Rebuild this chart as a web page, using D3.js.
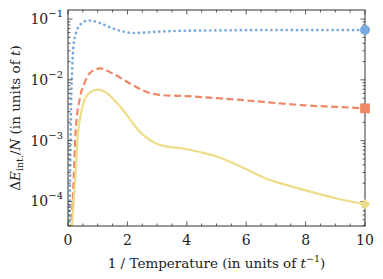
<!DOCTYPE html>
<html>
<head>
<meta charset="utf-8">
<script src="https://cdn.jsdelivr.net/npm/d3@7"></script>
<style>
  body { margin: 0; background: #fff; }
  svg text { font-family: "DejaVu Serif", "Liberation Serif", serif; fill: #222; }
</style>
</head>
<body>
<div id="vizHolder"></div>
<script>
// --- data (x = 1/T, y = dE/N) ---
var blueX   = [0.04, 0.07, 0.10, 0.14, 0.18, 0.29, 0.46, 0.68, 1.02, 1.36, 1.81, 2.26, 2.8, 3.77, 5, 7, 10];
var blueY   = [1e-5, 2e-4, 0.003, 0.015, 0.034, 0.063, 0.085, 0.095, 0.088, 0.075, 0.063, 0.059, 0.061, 0.064, 0.065, 0.066, 0.066];

var orangeX = [0.04, 0.19, 0.26, 0.4, 0.57, 0.74, 1.08, 1.47, 2.14, 2.5, 2.8, 3.2, 4, 5, 6, 7.14, 8, 9, 10];
var orangeY = [1e-5, 2.2e-4, 0.0015, 0.005, 0.0093, 0.013, 0.0155, 0.013, 0.0084, 0.0068, 0.006, 0.0056, 0.0054, 0.005, 0.0046, 0.0041, 0.0038, 0.0036, 0.0034];

var yellowX = [0.06, 0.24, 0.33, 0.45, 0.6, 0.8, 1.0, 1.3, 1.64, 1.85, 2.1, 2.42, 2.76, 3.0, 3.4, 3.8, 4.1, 4.5, 5.0, 5.9, 6.8, 7.14, 8.15, 9.05, 10];
var yellowY = [1e-5, 2.2e-4, 0.0012, 0.003, 0.0052, 0.0065, 0.0069, 0.0061, 0.0042, 0.0032, 0.0022, 0.0014, 0.00102, 0.00088, 0.00079, 0.00075, 0.00071, 0.00064, 0.00055, 0.00036, 0.000225, 0.0002, 0.000145, 0.000112, 0.00009];

var xTicks = [0, 2, 4, 6, 8, 10];
var yTicks = [-4, -3, -2, -1]; // exponents

var width = 383, height = 279,
    margin = {left: 68, right: 18, top: 10, bottom: 53};

var x = d3.scaleLinear().domain([0, 10]).range([margin.left, width - margin.right]);
var y = d3.scaleLog().domain([3.95e-5, 0.141]).range([height - margin.bottom, margin.top]);

var svg = d3.select('#vizHolder').append('svg')
    .attr('width', width).attr('height', height);

svg.append('clipPath').attr('id', 'clip')
  .append('rect')
    .attr('x', x(0)).attr('y', y.range()[1])
    .attr('width', x(10) - x(0)).attr('height', y.range()[0] - y.range()[1]);

var line = d3.line()
    .x(function(d){ return x(d[0]); })
    .y(function(d){ return y(d[1]); })
    .curve(d3.curveMonotoneX);

var series = [
  {xs: blueX,   ys: blueY,   color: '#77AADD', dash: '0.1 5',   cap: 'round', w: 2.7},
  {xs: orangeX, ys: orangeY, color: '#EE8866', dash: '7 3.5',   cap: 'butt',  w: 2.2},
  {xs: yellowX, ys: yellowY, color: '#EEDD88', dash: null,      cap: 'butt',  w: 2.2}
];

var plot = svg.append('g').attr('clip-path', 'url(#clip)');

series.forEach(function(s){
  var pts = s.xs.map(function(v, i){ return [v, s.ys[i]]; });
  plot.append('path')
    .datum(pts)
    .attr('fill', 'none')
    .attr('stroke', s.color)
    .attr('stroke-width', s.w)
    .attr('stroke-linecap', s.cap)
    .attr('stroke-dasharray', s.dash)
    .attr('d', line);
});

// --- frame and ticks ---
var frame = svg.append('g');
var x0 = x(0), x1 = x(10), yb = y.range()[0], yt = y.range()[1];

frame.append('rect')
  .attr('x', x0).attr('y', yt)
  .attr('width', x1 - x0).attr('height', yb - yt)
  .attr('fill', 'none').attr('stroke', '#333').attr('stroke-width', 1);

d3.range(0, 10.01, 0.5).forEach(function(v){
  var major = Math.abs(v % 2) < 1e-6, len = major ? 4.5 : 2.5;
  frame.append('line').attr('x1', x(v)).attr('x2', x(v)).attr('y1', yb).attr('y2', yb - len)
    .attr('stroke', '#333').attr('stroke-width', 0.8);
  frame.append('line').attr('x1', x(v)).attr('x2', x(v)).attr('y1', yt).attr('y2', yt + len)
    .attr('stroke', '#333').attr('stroke-width', 0.8);
});

for (var e = -5; e <= -1; e++) {
  for (var m = 1; m <= 9; m++) {
    var v = m * Math.pow(10, e);
    if (v < y.domain()[0] || v > y.domain()[1]) continue;
    var len = m === 1 ? 4.5 : 2.5;
    frame.append('line').attr('x1', x0).attr('x2', x0 + len).attr('y1', y(v)).attr('y2', y(v))
      .attr('stroke', '#333').attr('stroke-width', 0.8);
    frame.append('line').attr('x1', x1).attr('x2', x1 - len).attr('y1', y(v)).attr('y2', y(v))
      .attr('stroke', '#333').attr('stroke-width', 0.8);
  }
}

// tick labels
svg.selectAll('text.xt').data(xTicks).enter().append('text')
  .attr('class', 'xt')
  .attr('x', function(d){ return x(d); })
  .attr('y', yb + 19)
  .attr('text-anchor', 'middle')
  .attr('font-size', 14)
  .text(function(d){ return d; });

var yt_ = svg.selectAll('text.yt').data(yTicks).enter().append('text')
  .attr('class', 'yt')
  .attr('x', x0 - 5)
  .attr('y', function(d){ return y(Math.pow(10, d)) + 5; })
  .attr('text-anchor', 'end')
  .attr('font-size', 14);
yt_.append('tspan').text('10');
yt_.append('tspan').attr('dy', -7).attr('font-size', 10).text(function(d){ return '\u2212' + (-d); });

// markers at x = 10
var ends = [blueY[blueY.length-1], orangeY[orangeY.length-1], yellowY[yellowY.length-1]];
svg.append('circle').attr('cx', x(10)).attr('cy', y(ends[0])).attr('r', 5).attr('fill', '#77AADD');
svg.append('path').attr('transform', 'translate(' + x(10) + ',' + y(ends[1]) + ')')
  .attr('d', d3.symbol(d3.symbolSquare, 95)).attr('fill', '#EE8866');
svg.append('path').attr('transform', 'translate(' + x(10) + ',' + y(ends[2]) + ') rotate(45)')
  .attr('d', d3.symbol(d3.symbolSquare, 55)).attr('fill', '#EEDD88');

// axis titles
var xt = svg.append('text')
  .attr('x', (x0 + x1) / 2).attr('y', height - 11)
  .attr('text-anchor', 'middle').attr('font-size', 13.5);
xt.append('tspan').text('1 / Temperature (in units of ');
xt.append('tspan').attr('font-style', 'italic').text('t');
xt.append('tspan').attr('dy', -6).attr('font-size', 9.5).text('\u22121');
xt.append('tspan').attr('dy', 6).text(')');

var ytl = svg.append('text')
  .attr('transform', 'translate(20,' + ((yt + yb) / 2) + ') rotate(-90)')
  .attr('text-anchor', 'middle').attr('font-size', 13.5);
ytl.append('tspan').text('\u0394');
ytl.append('tspan').attr('font-style', 'italic').text('E');
ytl.append('tspan').attr('dy', 3).attr('font-size', 9.5).text('int.');
ytl.append('tspan').attr('dy', -3).text('/');
ytl.append('tspan').attr('font-style', 'italic').text('N');
ytl.append('tspan').text(' (in units of ');
ytl.append('tspan').attr('font-style', 'italic').text('t');
ytl.append('tspan').text(')');
</script>
</body>
</html>
